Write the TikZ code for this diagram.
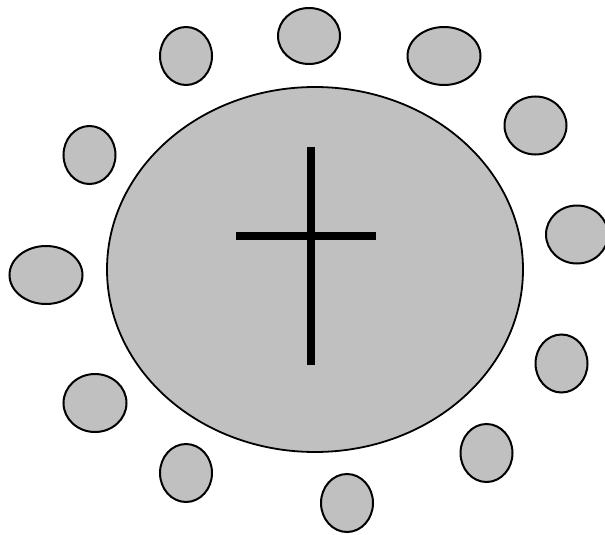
\documentclass[tikz,border=0pt]{standalone}
\definecolor{blobgray}{HTML}{C0C0C0}
\begin{document}
\begin{tikzpicture}[x=1pt,y=-1pt,
  blob/.style={fill=blobgray,draw=black,line width=2pt},
  crossbar/.style={draw=black,line width=8pt}]
\useasboundingbox (0,0) rectangle (605,535);
\clip (0,0) rectangle (605,535);
% main ellipse
\filldraw[blob,line width=1.8pt] (315,269.5) ellipse [x radius=208, y radius=182.5];
% cross
\coordinate (vt) at (311,147);
\coordinate (vb) at (311,365);
\coordinate (hl) at (236,236);
\coordinate (hr) at (376,236);
\draw[crossbar] (vt) -- (vb);
\draw[crossbar] (hl) -- (hr);
% small ellipses
\filldraw[blob] (186,56) ellipse [x radius=26, y radius=29];
\filldraw[blob] (309,36) ellipse [x radius=31, y radius=28];
\filldraw[blob] (444,56) ellipse [x radius=36.5, y radius=29];
\filldraw[blob] (535.5,125.5) ellipse [x radius=31, y radius=29];
\filldraw[blob] (577,234.5) ellipse [x radius=31, y radius=29];
\filldraw[blob] (561.5,363.5) ellipse [x radius=26, y radius=29];
\filldraw[blob] (486.5,453) ellipse [x radius=26, y radius=29];
\filldraw[blob] (347,503) ellipse [x radius=26, y radius=29];
\filldraw[blob] (186,473) ellipse [x radius=26, y radius=29];
\filldraw[blob] (95,403) ellipse [x radius=31.5, y radius=29];
\filldraw[blob] (46,275) ellipse [x radius=36.5, y radius=29];
\filldraw[blob] (89.5,155) ellipse [x radius=26, y radius=29];
\end{tikzpicture}
\end{document}
